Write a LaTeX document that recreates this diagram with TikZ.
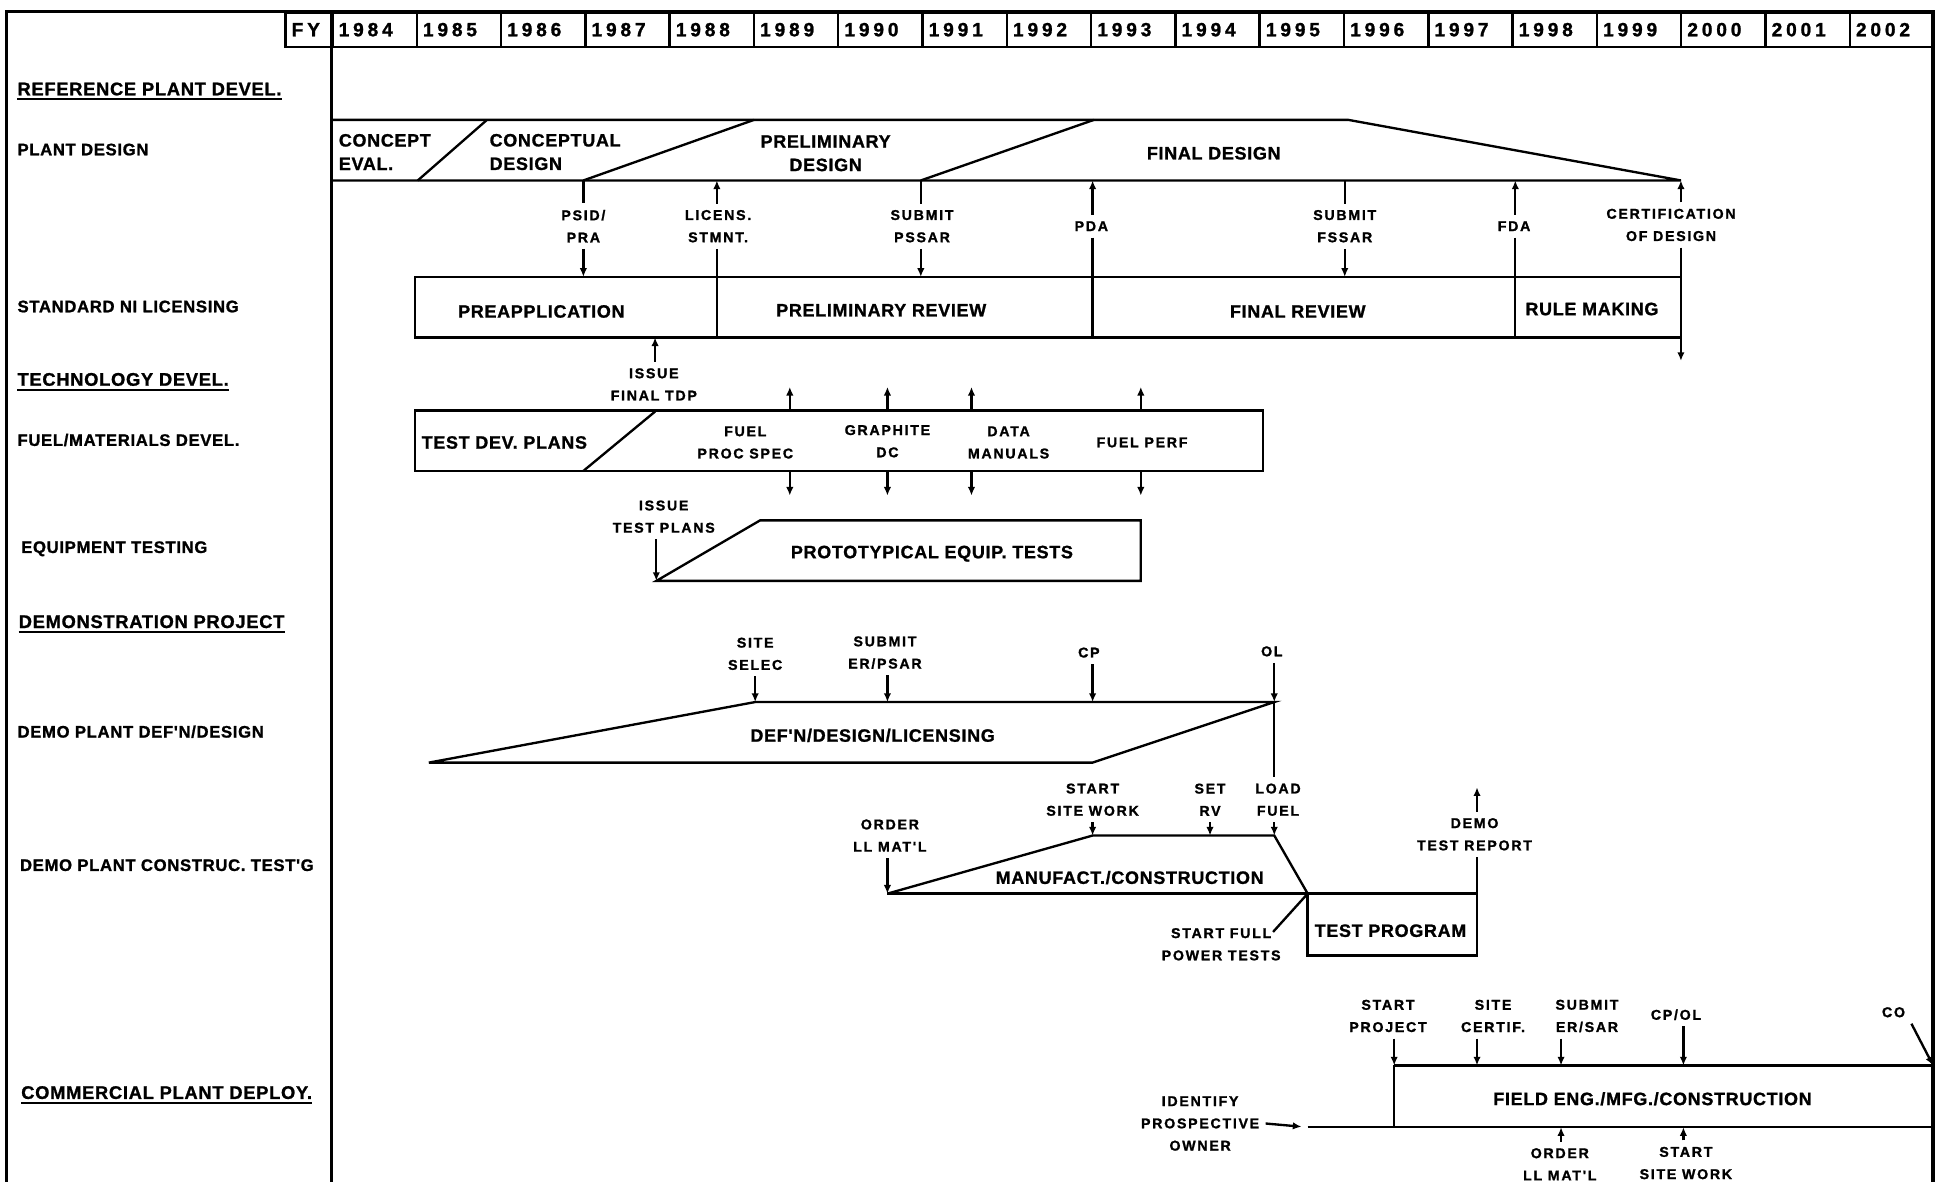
\documentclass[tikz,border=0pt]{standalone}
\usepackage{fontspec}
\setmainfont{Liberation Sans}
\newfontfamily\hdf{Liberation Sans}[LetterSpace=4,BoldFeatures={FakeBold=1.2}]
\newfontfamily\msf{Liberation Sans}[LetterSpace=12,BoldFeatures={FakeBold=1.2}]
\newfontfamily\yrf{Liberation Sans}[LetterSpace=20,BoldFeatures={FakeBold=1.2}]
\usetikzlibrary{arrows.meta,calc}
\begin{document}
\begin{tikzpicture}[x=1pt,y=-1pt,
 frame/.style={line width=2.6pt},
 ln/.style={line width=1.9pt},
 arr/.style={line width=1.9pt,-{Latex[length=7pt,width=6pt]}},
 side/.style={font=\hdf\bfseries\fontsize{13.5}{16}\selectfont,anchor=west,inner sep=0pt},
 head/.style={font=\hdf\bfseries\fontsize{14.8}{17}\selectfont,anchor=west,inner sep=0pt},
 bar/.style={font=\hdf\bfseries\fontsize{14.5}{19}\selectfont,align=center,inner sep=0pt},
 ms/.style={font=\msf\bfseries\fontsize{11.5}{18}\selectfont,align=center,inner sep=5pt},
 yr/.style={draw,line width=2pt,font=\yrf\bfseries\fontsize{15.5}{16}\selectfont,anchor=north west,minimum height=28pt,text width=58.2pt,inner xsep=5pt,inner ysep=0pt,align=left},
 uline/.style={line width=1.6pt}]

\useasboundingbox (0,0) rectangle (1568,956);
\fill[white] (0,0) rectangle (1568,956);

% ---------------- header ----------------
\node[yr,text width=28pt] (fy) at (230,9) {FY};
\foreach \yy [count=\i from 0] in {1984,...,2002}
  \node[yr] (y\yy) at ({268+68.2*\i},9) {\yy};

\draw[frame] (5,962) -- (5,9) -- (1564,9) -- (1564,962);
\draw[frame] (268,9) -- (268,962);

% ---------------- side labels ----------------
\node[head] (hRef) at (14,72) {REFERENCE PLANT DEVEL.};
\draw[uline] ($(hRef.south west)+(0,3)$) -- ($(hRef.south east)+(0,3)$);
\node[side] (lPD) at (14,121) {PLANT DESIGN};
\node[side] (lSL) at (14,248) {STANDARD NI LICENSING};
\node[head] (hTech) at (14,307) {TECHNOLOGY DEVEL.};
\draw[uline] ($(hTech.south west)+(0,3)$) -- ($(hTech.south east)+(0,3)$);
\node[side] (lFM) at (14,356) {FUEL/MATERIALS DEVEL.};
\node[side] (lEQ) at (17,444) {EQUIPMENT TESTING};
\node[head] (hDemo) at (15,503) {DEMONSTRATION PROJECT};
\draw[uline] ($(hDemo.south west)+(0,3)$) -- ($(hDemo.south east)+(0,3)$);
\node[side] (lDD) at (14,592) {DEMO PLANT DEF'N/DESIGN};
\node[side] (lDC) at (16,700) {DEMO PLANT CONSTRUC. TEST'G};
\node[head] (hCom) at (17,884) {COMMERCIAL PLANT DEPLOY.};
\draw[uline] ($(hCom.south west)+(0,3)$) -- ($(hCom.south east)+(0,3)$);

% ---------------- plant design ----------------
\coordinate (pdTL) at (268,97);
\coordinate (pdBL) at (268,146);
\coordinate (pdTR) at (1091,97);
\coordinate (pdE) at (1360,146);
\coordinate (s1b) at (338,146); \coordinate (s1t) at (394,97);
\coordinate (s2b) at (472,146); \coordinate (s2t) at (610,97);
\coordinate (s3b) at (745,146); \coordinate (s3t) at (885,97);
\draw[ln] (pdTL) -- (pdTR) -- (pdE) -- (pdBL);
\draw[ln] (s1b) -- (s1t);
\draw[ln] (s2b) -- (s2t);
\draw[ln] (s3b) -- (s3t);
\node[bar,anchor=west,align=left] (ce) at (274,123) {CONCEPT\\EVAL.};
\node[bar,anchor=west,align=left] (cd) at (396,123) {CONCEPTUAL\\DESIGN};
\node[bar] (prd) at (668,124) {PRELIMINARY\\DESIGN};
\node[bar] (fdz) at (982,124) {FINAL DESIGN};

% ---------------- licensing ----------------
\coordinate (lbTL) at (336,224); \coordinate (lbBL) at (336,273);
\coordinate (lbTR) at (1360,224); \coordinate (lbBR) at (1360,273);
\draw[ln] (lbTR) -- (lbTL) -- (lbBL) -- (lbBR);

\coordinate (pd-lic) at (580,146);
\coordinate (pd-pda) at (884,146);
\coordinate (pd-fssar) at (1088,146);
\coordinate (pd-fda) at (1226,146);
\coordinate (pd-cert) at (1360,146);
\coordinate (lt-psid) at (472,224);
\coordinate (lt-pssar) at (745,224);
\coordinate (lt-fssar) at (1088,224);
\coordinate (lb-lic) at (580,273);
\coordinate (lb-pda) at (884,273);
\coordinate (lb-fda) at (1226,273);
\coordinate (cert-end) at (1360,292);

\node[ms] (psid) at (472,183) {PSID/\\PRA};
\node[ms] (lic) at (581,183) {LICENS.\\STMNT.};
\node[ms] (pssar) at (746,183) {SUBMIT\\PSSAR};
\node[ms] (pda) at (883,183) {PDA};
\node[ms] (fssar) at (1088,183) {SUBMIT\\FSSAR};
\node[ms] (fda) at (1225,183) {FDA};
\node[ms] (cert) at (1352,182) {CERTIFICATION\\OF DESIGN};

\draw[ln] (s2b) -- (psid.north -| s2b);
\draw[arr] (psid.south -| lt-psid) -- (lt-psid);
\draw[arr] (lic.north -| pd-lic) -- (pd-lic);
\draw[ln] (lic.south -| pd-lic) -- (lb-lic);
\draw[ln] (s3b) -- (pssar.north -| s3b);
\draw[arr] (pssar.south -| lt-pssar) -- (lt-pssar);
\draw[arr] (pda.north -| pd-pda) -- (pd-pda);
\draw[ln] (pda.south -| pd-pda) -- (lb-pda);
\draw[ln] (pd-fssar) -- (fssar.north -| pd-fssar);
\draw[arr] (fssar.south -| lt-fssar) -- (lt-fssar);
\draw[arr] (fda.north -| pd-fda) -- (pd-fda);
\draw[ln] (fda.south -| pd-fda) -- (lb-fda);
\draw[arr] (cert.north -| pd-cert) -- (pd-cert);
\draw[arr] (cert.south -| pd-cert) -- (cert-end);

\node[bar] (preapp) at (438,252) {PREAPPLICATION};
\node[bar] (prrev) at (713,251) {PRELIMINARY REVIEW};
\node[bar] (finrev) at (1050,252) {FINAL REVIEW};
\node[bar] (rule) at (1288,250) {RULE MAKING};

\coordinate (lb-tdp) at (530,273);
\node[ms] (tdp) at (529,311) {ISSUE\\FINAL TDP};
\draw[arr] (tdp.north -| lb-tdp) -- (lb-tdp);

% ---------------- fuel / materials ----------------
\coordinate (fmTL) at (336,332); \coordinate (fmBR) at (1022,381);
\draw[ln] (fmTL) rectangle (fmBR);
\coordinate (fsb) at (472,381); \coordinate (fst) at (530,333);
\draw[ln] (fsb) -- (fst);
\node[bar,anchor=west] (tdpl) at (341,358) {TEST DEV. PLANS};
\node[ms,inner sep=1pt] (fps) at (603,358) {FUEL\\PROC SPEC};
\node[ms,inner sep=1pt] (gdc) at (718,357) {GRAPHITE\\DC};
\node[ms,inner sep=1pt] (dman) at (816,358) {DATA\\MANUALS};
\node[ms,inner sep=1pt] (fperf) at (924,358) {FUEL PERF};
\foreach \k/\xx in {a/639,b/718,c/786,d/923}{
  \coordinate (fu\k) at (\xx,332); \coordinate (fuT\k) at (\xx,313);
  \coordinate (fd\k) at (\xx,381); \coordinate (fdB\k) at (\xx,401);
  \draw[arr] (fu\k) -- (fuT\k);
  \draw[arr] (fd\k) -- (fdB\k);
}

% ---------------- equipment testing ----------------
\coordinate (eqA) at (531,470); \coordinate (eqB) at (615,421);
\coordinate (eqC) at (923,421); \coordinate (eqD) at (923,470);
\draw[ln] (eqA) -- (eqB) -- (eqC) -- (eqD) -- cycle;
\node[ms] (itp) at (537,418) {ISSUE\\TEST PLANS};
\draw[arr] (itp.south -| eqA) -- (eqA);
\node[bar] (pet) at (754,448) {PROTOTYPICAL EQUIP. TESTS};

% ---------------- demo plant def'n ----------------
\coordinate (ddA) at (347,617); \coordinate (ddB) at (611,568);
\coordinate (ddC) at (1031,568); \coordinate (ddD) at (884,617);
\coordinate (dd-er) at (718,568); \coordinate (dd-cp) at (884,568);
\draw[ln] (ddA) -- (ddB) -- (ddC) -- (ddD) -- cycle;
\node[ms] (ssel) at (611,529) {SITE\\SELEC};
\node[ms] (erps) at (716,528) {SUBMIT\\ER/PSAR};
\node[ms] (cp) at (881,528) {CP};
\node[ms] (ol) at (1029,527) {OL};
\draw[arr] (ssel.south -| ddB) -- (ddB);
\draw[arr] (erps.south -| dd-er) -- (dd-er);
\draw[arr] (cp.south -| dd-cp) -- (dd-cp);
\draw[arr] (ol.south -| ddC) -- (ddC);
\node[bar] (ddl) at (706,595) {DEF'N/DESIGN/LICENSING};

% ---------------- demo plant construction ----------------
\coordinate (mcA) at (718,723); \coordinate (mcB) at (884,676);
\coordinate (mcC) at (1031,676); \coordinate (mcD) at (1058,723);
\coordinate (mcRV) at (979,676);
\coordinate (tpTR) at (1195,723); \coordinate (tpBR) at (1195,773);
\coordinate (tpBL) at (1058,773);
\draw[ln] (mcA) -- (mcB) -- (mcC) -- (mcD);
\draw[ln] (mcA) -- (tpTR);
\draw[ln] (mcD) -- (tpBL) -- (tpBR) -- (tpTR);
\node[ms] (ord1) at (720,676) {ORDER\\LL MAT'L};
\node[ms] (ssw1) at (884,647) {START\\SITE WORK};
\node[ms] (srv) at (979,647) {SET\\RV};
\node[ms] (lfu) at (1034,647) {LOAD\\FUEL};
\node[ms] (dtr) at (1193,675) {DEMO\\TEST REPORT};
\node[ms] (sfpt) at (988,764) {START FULL\\POWER TESTS};
\coordinate (dtrT) at (1195,637);
\coordinate (sfl) at (1030,754);
\draw[ln] (ddC) -- (lfu.north -| ddC);
\draw[arr] (ord1.south -| mcA) -- (mcA);
\draw[arr] (ssw1.south -| mcB) -- (mcB);
\draw[arr] (srv.south -| mcRV) -- (mcRV);
\draw[arr] (lfu.south -| mcC) -- (mcC);
\draw[ln] (tpTR) -- (dtr.south -| tpTR);
\draw[arr] (dtr.north -| dtrT) -- (dtrT);
\draw[ln] (sfl) -- (mcD);
\node[bar] (mcl) at (914,710) {MANUFACT./CONSTRUCTION};
\node[bar] (tpl) at (1125,753) {TEST PROGRAM};

% ---------------- commercial plant ----------------
\coordinate (cmTL) at (1128,862); \coordinate (cmTR) at (1564,862);
\coordinate (cmBL0) at (1058,912); \coordinate (cmBL) at (1128,912);
\coordinate (cmBR) at (1564,912);
\coordinate (c-sc) at (1195,862); \coordinate (c-er) at (1263,862);
\coordinate (c-cp) at (1362,862);
\coordinate (cb-ord) at (1263,912); \coordinate (cb-ssw) at (1362,912);
\draw[ln] (cmTL) -- (cmTR);
\draw[ln] (cmTL) -- (cmBL);
\draw[ln] (cmBL0) -- (cmBR);
\node[ms] (spj) at (1123,822) {START\\PROJECT};
\node[ms] (scert) at (1208,822) {SITE\\CERTIF.};
\node[ms] (ersar) at (1284,822) {SUBMIT\\ER/SAR};
\node[ms] (cpol) at (1356,821) {CP/OL};
\node[ms] (co) at (1532,819) {CO};
\draw[arr] (spj.south -| cmTL) -- (cmTL);
\draw[arr] (scert.south -| c-sc) -- (c-sc);
\draw[arr] (ersar.south -| c-er) -- (c-er);
\draw[arr] (cpol.south -| c-cp) -- (c-cp);
\draw[arr] (co.south east) -- (cmTR);
\node[bar] (feng) at (1337,889) {FIELD ENG./MFG./CONSTRUCTION};
\node[ms] (ord2) at (1262,942) {ORDER\\LL MAT'L};
\node[ms] (ssw2) at (1364,941) {START\\SITE WORK};
\draw[arr] (ord2.north -| cb-ord) -- (cb-ord);
\draw[arr] (ssw2.north -| cb-ssw) -- (cb-ssw);
\node[ms] (ipo) at (971,909) {IDENTIFY\\PROSPECTIVE\\OWNER};
\draw[arr,shorten >=5pt] (ipo.east) -- (cmBL0);
\end{tikzpicture}
\end{document}
